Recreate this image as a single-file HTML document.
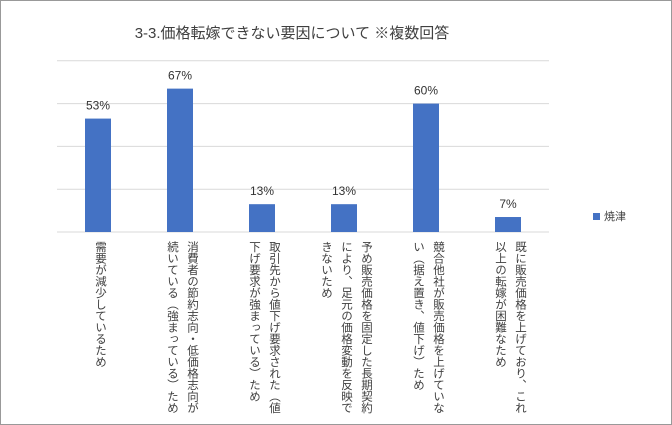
<!DOCTYPE html>
<html><head><meta charset="utf-8">
<style>
body{margin:0;background:#fff;}
#c{position:relative;width:670px;height:423px;border:1px solid #999;font-family:"Liberation Sans","Noto Sans CJK JP",sans-serif;color:#404040;overflow:hidden;}
.lbl{position:absolute;top:240px;writing-mode:vertical-rl;font-size:11.5px;line-height:20px;color:#404040;white-space:nowrap;}
</style></head><body>
<div id="c">
<div style="position:absolute;top:21px;left:0;width:582px;text-align:center;font-size:15px;">3-3.価格転嫁できない要因について ※複数回答</div>
<svg id="s" width="670" height="423" style="position:absolute;left:0;top:0"></svg>
<div style="position:absolute;left:592px;top:207px;font-size:11px;"><span style="display:inline-block;width:7px;height:7px;background:#4472c4;margin-right:4px"></span>焼津</div>
</div>
<script>
const categories=["需要が減少しているため","消費者の節約志向・低価格志向が<br>続いている（強まっている）ため","取引先から値下げ要求された（値<br>下げ要求が強まっている）ため","予め販売価格を固定した長期契約<br>により、足元の価格変動を反映で<br>きないため","競合他社が販売価格を上げていな<br>い（据え置き、値下げ）ため","既に販売価格を上げており、これ<br>以上の転嫁が困難なため"];
const values=[53,67,13,13,60,7];
const ticks=[0,20,40,60,80];
const NS="http://www.w3.org/2000/svg";
const s=document.getElementById('s');
const x0=56,step=82,y0=231,ppu=2.14,bw=26;
const y=v=>y0-v*ppu;
ticks.forEach(t=>{const l=document.createElementNS(NS,'line');


l.setAttribute('x1',x0);l.setAttribute('x2',x0+step*categories.length);l.setAttribute('y1',y(t));l.setAttribute('y2',y(t));
l.setAttribute('stroke','#d9d9d9');s.appendChild(l);});
values.forEach((v,i)=>{const cx=x0+step*i+step/2;
const r=document.createElementNS(NS,'rect');


r.setAttribute('x',cx-bw/2);r.setAttribute('y',y(v));r.setAttribute('width',bw);r.setAttribute('height',y0-y(v));r.setAttribute('fill','#4472c4');s.appendChild(r);
const t=document.createElementNS(NS,'text');


t.setAttribute('x',cx);t.setAttribute('y',y(v)-9);t.setAttribute('text-anchor','middle');t.setAttribute('font-size','12');t.setAttribute('fill','#333');t.setAttribute('font-family','Liberation Sans, sans-serif');t.textContent=v+'%';s.appendChild(t);
const d=document.createElement('div');


d.className='lbl';d.innerHTML=categories[i];
document.getElementById('c').appendChild(d);
const w=d.offsetWidth;d.style.left=(cx-w/2+2)+'px';});
</script>
</body></html>
